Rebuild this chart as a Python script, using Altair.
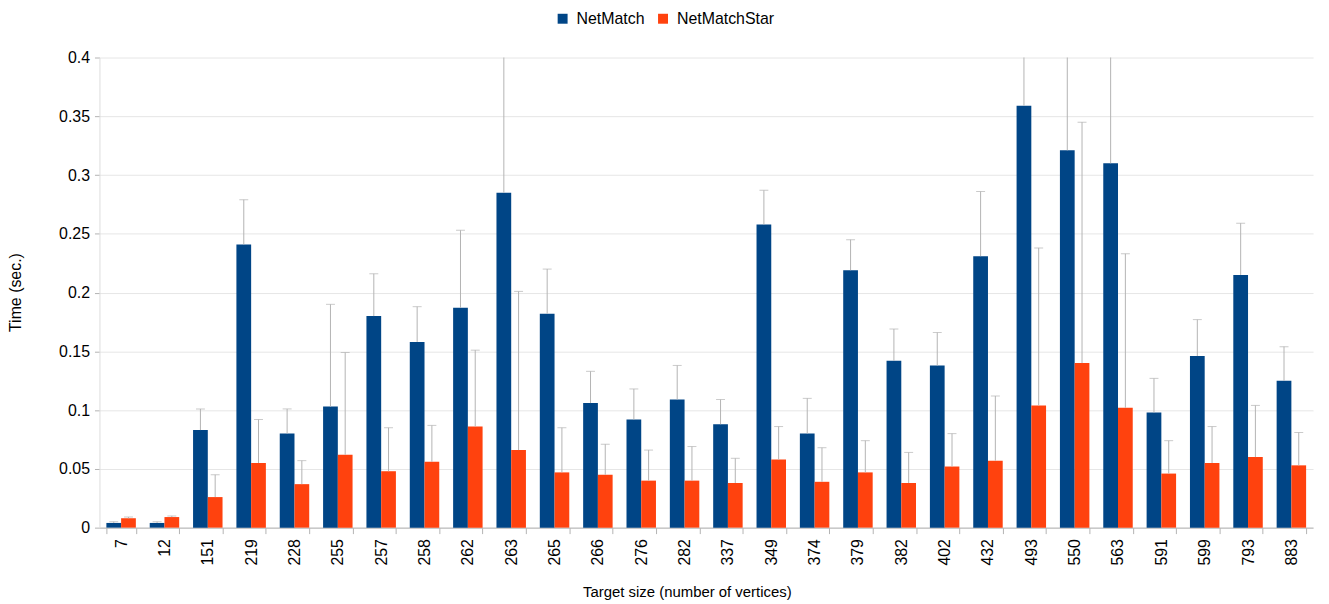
import altair as alt
import pandas as pd

targets = ["7", "12", "151", "219", "228", "255", "257", "258", "262", "263",
           "265", "266", "276", "282", "337", "349", "374", "379", "382", "402",
           "432", "493", "550", "563", "591", "599", "793", "883"]

netmatch = [0.004, 0.004, 0.083, 0.241, 0.080, 0.103, 0.180, 0.158, 0.187, 0.285,
            0.182, 0.106, 0.092, 0.109, 0.088, 0.258, 0.080, 0.219, 0.142, 0.138,
            0.231, 0.359, 0.321, 0.310, 0.098, 0.146, 0.215, 0.125]
netmatch_upper = [0.005, 0.005, 0.101, 0.279, 0.101, 0.190, 0.216, 0.188, 0.253, 0.420,
                  0.220, 0.133, 0.118, 0.138, 0.109, 0.287, 0.110, 0.245, 0.169, 0.166,
                  0.286, 0.430, 0.440, 0.425, 0.127, 0.177, 0.259, 0.154]

netmatchstar = [0.008, 0.009, 0.026, 0.055, 0.037, 0.062, 0.048, 0.056, 0.086, 0.066,
                0.047, 0.045, 0.040, 0.040, 0.038, 0.058, 0.039, 0.047, 0.038, 0.052,
                0.057, 0.104, 0.140, 0.102, 0.046, 0.055, 0.060, 0.053]
netmatchstar_upper = [0.009, 0.010, 0.045, 0.092, 0.057, 0.149, 0.085, 0.087, 0.151, 0.201,
                      0.085, 0.071, 0.066, 0.069, 0.059, 0.086, 0.068, 0.074, 0.064, 0.080,
                      0.112, 0.238, 0.345, 0.233, 0.074, 0.086, 0.104, 0.081]

series_names = ["NetMatch", "NetMatchStar"]
series_colors = ["#004586", "#ff420e"]
y_ticks = [0, 0.05, 0.1, 0.15, 0.2, 0.25, 0.3, 0.35, 0.4]

rows = []
for i, t in enumerate(targets):
    rows.append({"target": t, "series": "NetMatch", "value": netmatch[i], "upper": netmatch_upper[i]})
    rows.append({"target": t, "series": "NetMatchStar", "value": netmatchstar[i], "upper": netmatchstar_upper[i]})
df = pd.DataFrame(rows)

x_enc = alt.X(
    "target:N", sort=targets,
    scale=alt.Scale(paddingInner=0.32, paddingOuter=0.16),
    axis=alt.Axis(
        title="Target size (number of vertices)", labelAngle=270, tickBand="extent",
        tickSize=6, labelPadding=5, labelFontSize=16, labelColor="#000000",
        domainColor="#b3b3b3", tickColor="#b3b3b3", titleFontSize=15,
        titleFontWeight="normal", titleColor="#000000", titleX=591, titleY=69,
        titleBaseline="alphabetic", grid=False,
    ),
)
xoff = alt.XOffset("series:N", sort=series_names)
y_scale = alt.Scale(domain=[0, 0.4], nice=False)

bars = alt.Chart(df).mark_bar().encode(
    x=x_enc,
    xOffset=xoff,
    y=alt.Y(
        "value:Q", scale=y_scale,
        axis=alt.Axis(
            title="Time (sec.)", values=y_ticks, format="~g", labelFontSize=16,
            labelColor="#000000", tickSize=5, labelPadding=5, tickColor="#b3b3b3",
            domainColor="#dddddd", gridColor="#e6e6e6", titleFontSize=16,
            titleFontWeight="normal", titleColor="#000000", titleX=-84, titleY=236,
            titleBaseline="middle",
        ),
    ),
    color=alt.Color(
        "series:N", sort=series_names,
        scale=alt.Scale(domain=series_names, range=series_colors),
        legend=alt.Legend(
            title=None, orient="none", direction="horizontal", legendX=458, legendY=-47,
            symbolType="square", symbolSize=100, symbolStrokeWidth=0, labelFontSize=16,
            labelColor="#000000", labelOffset=6, columnPadding=10, padding=0,
        ),
    ),
)

err = alt.Chart(df).mark_rule(color="#b3b3b3", strokeWidth=1, clip=True).encode(
    x=alt.X("target:N", sort=targets),
    xOffset=xoff,
    y=alt.Y("value:Q", scale=y_scale),
    y2="upper:Q",
)

caps = alt.Chart(df).mark_tick(color="#b3b3b3", orient="horizontal", size=9, thickness=1, clip=True).encode(
    x=alt.X("target:N", sort=targets),
    xOffset=xoff,
    y=alt.Y("upper:Q", scale=y_scale),
)

chart = alt.layer(bars, err, caps).properties(
    width=1221, height=473,
    autosize=alt.AutoSizeParams(type="none"),
    padding={"left": 92, "top": 48, "right": 8, "bottom": 72},
).configure(
    font="Liberation Sans",
).configure_view(stroke=None)

chart.save("out.html", embed_options={"renderer": "svg", "actions": False})
